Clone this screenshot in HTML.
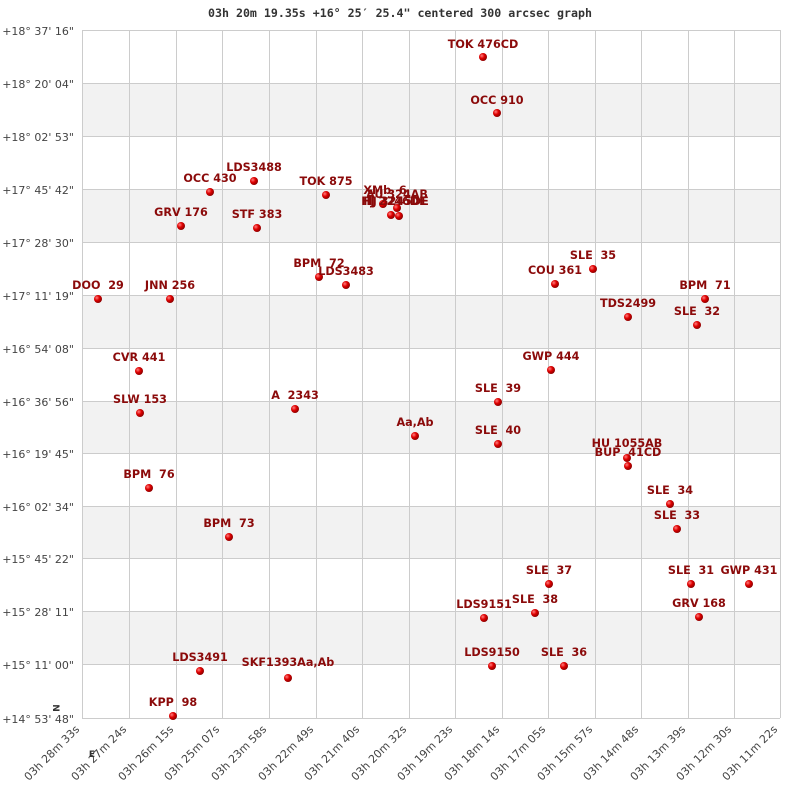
<!DOCTYPE html>
<html><head><meta charset="utf-8"><style>
body{margin:0;background:#fff;width:800px;height:800px;overflow:hidden}
text{white-space:pre}
</style></head><body>
<svg width="800" height="800" xmlns="http://www.w3.org/2000/svg" font-family="DejaVu Sans, Liberation Sans, sans-serif" xml:space="preserve">
<defs><radialGradient id="g" cx="35%" cy="35%" r="65%"><stop offset="0" stop-color="#ff8080"/><stop offset="0.5" stop-color="#e00000"/><stop offset="1" stop-color="#900000"/></radialGradient></defs>
<text x="400" y="17" text-anchor="middle" font-family="DejaVu Sans Mono, Liberation Mono, monospace" font-weight="bold" font-size="11.6" fill="#333">03h 20m 19.35s +16° 25′ 25.4" centered 300 arcsec graph</text>
<g fill="#f2f2f2">
<rect x="82" y="83" width="698" height="53"/><rect x="82" y="189" width="698" height="53"/><rect x="82" y="295" width="698" height="53"/><rect x="82" y="401" width="698" height="52"/><rect x="82" y="506" width="698" height="52"/><rect x="82" y="611" width="698" height="53"/>
</g>
<g stroke="#ccc" stroke-width="1">
<path d="M82.5 30V718M129.5 30V718M176.5 30V718M222.5 30V718M269.5 30V718M316.5 30V718M362.5 30V718M409.5 30V718M455.5 30V718M502.5 30V718M548.5 30V718M595.5 30V718M641.5 30V718M688.5 30V718M734.5 30V718M780.5 30V718"/>
<path d="M82 30.5H780M82 83.5H780M82 136.5H780M82 189.5H780M82 242.5H780M82 295.5H780M82 348.5H780M82 401.5H780M82 453.5H780M82 506.5H780M82 558.5H780M82 611.5H780M82 664.5H780M82 718.5H780"/>
</g>
<g font-size="11" fill="#444" text-anchor="end">
<text x="74" y="35">+18° 37' 16"</text><text x="74" y="88">+18° 20' 04"</text><text x="74" y="141">+18° 02' 53"</text><text x="74" y="194">+17° 45' 42"</text><text x="74" y="247">+17° 28' 30"</text><text x="74" y="300">+17° 11' 19"</text><text x="74" y="353">+16° 54' 08"</text><text x="74" y="406">+16° 36' 56"</text><text x="74" y="458">+16° 19' 45"</text><text x="74" y="511">+16° 02' 34"</text><text x="74" y="563">+15° 45' 22"</text><text x="74" y="616">+15° 28' 11"</text><text x="74" y="669">+15° 11' 00"</text><text x="74" y="723">+14° 53' 48"</text>
</g>
<g font-size="11" fill="#444" text-anchor="end">
<text transform="translate(80,730) rotate(-45)">03h 28m 33s</text>
<text transform="translate(127,730) rotate(-45)">03h 27m 24s</text>
<text transform="translate(174,730) rotate(-45)">03h 26m 15s</text>
<text transform="translate(220,730) rotate(-45)">03h 25m 07s</text>
<text transform="translate(267,730) rotate(-45)">03h 23m 58s</text>
<text transform="translate(314,730) rotate(-45)">03h 22m 49s</text>
<text transform="translate(360,730) rotate(-45)">03h 21m 40s</text>
<text transform="translate(407,730) rotate(-45)">03h 20m 32s</text>
<text transform="translate(453,730) rotate(-45)">03h 19m 23s</text>
<text transform="translate(500,730) rotate(-45)">03h 18m 14s</text>
<text transform="translate(546,730) rotate(-45)">03h 17m 05s</text>
<text transform="translate(593,730) rotate(-45)">03h 15m 57s</text>
<text transform="translate(639,730) rotate(-45)">03h 14m 48s</text>
<text transform="translate(686,730) rotate(-45)">03h 13m 39s</text>
<text transform="translate(732,730) rotate(-45)">03h 12m 30s</text>
<text transform="translate(778,730) rotate(-45)">03h 11m 22s</text>
</g>
<text transform="translate(53,708) rotate(90)" font-size="9" font-weight="bold" fill="#333" text-anchor="middle">N</text>
<text x="92" y="757" font-size="9" font-weight="bold" fill="#333" text-anchor="middle">E</text>
<g fill="url(#g)">
<circle cx="483" cy="57" r="4"/><circle cx="497" cy="113" r="4"/><circle cx="254" cy="181" r="4"/><circle cx="210" cy="192" r="4"/><circle cx="326" cy="195" r="4"/>
<circle cx="383" cy="204" r="4"/><circle cx="397" cy="208" r="4"/><circle cx="391" cy="215" r="4"/><circle cx="399" cy="216" r="4"/>
<circle cx="181" cy="226" r="4"/><circle cx="257" cy="228" r="4"/><circle cx="319" cy="277" r="4"/><circle cx="346" cy="285" r="4"/>
<circle cx="98" cy="299" r="4"/><circle cx="170" cy="299" r="4"/><circle cx="555" cy="284" r="4"/><circle cx="593" cy="269" r="4"/>
<circle cx="705" cy="299" r="4"/><circle cx="628" cy="317" r="4"/><circle cx="697" cy="325" r="4"/><circle cx="139" cy="371" r="4"/>
<circle cx="551" cy="370" r="4"/><circle cx="498" cy="402" r="4"/><circle cx="140" cy="413" r="4"/><circle cx="295" cy="409" r="4"/>
<circle cx="415" cy="436" r="4"/><circle cx="498" cy="444" r="4"/><circle cx="627" cy="458" r="4"/><circle cx="628" cy="466" r="4"/>
<circle cx="149" cy="488" r="4"/><circle cx="670" cy="504" r="4"/><circle cx="677" cy="529" r="4"/><circle cx="229" cy="537" r="4"/>
<circle cx="549" cy="584" r="4"/><circle cx="691" cy="584" r="4"/><circle cx="749" cy="584" r="4"/><circle cx="484" cy="618" r="4"/>
<circle cx="535" cy="613" r="4"/><circle cx="699" cy="617" r="4"/><circle cx="492" cy="666" r="4"/><circle cx="564" cy="666" r="4"/>
<circle cx="200" cy="671" r="4"/><circle cx="288" cy="678" r="4"/><circle cx="173" cy="716" r="4"/>
</g>
<g font-size="11.2" font-weight="bold" fill="#8b0a0a" text-anchor="middle">
<text x="483" y="48">TOK 476CD</text><text x="497" y="104">OCC 910</text><text x="254" y="171">LDS3488</text><text x="210" y="182">OCC 430</text><text x="326" y="185">TOK 875</text>
<text x="385" y="194">XMb  6</text><text x="397" y="198">AU 324AB</text><text x="394" y="205">HJ 2246DE</text><text x="396" y="205">HJ 3245DE</text>
<text x="181" y="216">GRV 176</text><text x="257" y="218">STF 383</text><text x="319" y="267">BPM  72</text><text x="346" y="275">LDS3483</text>
<text x="98" y="289">DOO  29</text><text x="170" y="289">JNN 256</text><text x="555" y="274">COU 361</text><text x="593" y="259">SLE  35</text>
<text x="705" y="289">BPM  71</text><text x="628" y="307">TDS2499</text><text x="697" y="315">SLE  32</text><text x="139" y="361">CVR 441</text>
<text x="551" y="360">GWP 444</text><text x="498" y="392">SLE  39</text><text x="140" y="403">SLW 153</text><text x="295" y="399">A  2343</text>
<text x="415" y="426">Aa,Ab</text><text x="498" y="434">SLE  40</text><text x="627" y="447">HU 1055AB</text><text x="628" y="456">BUP  41CD</text>
<text x="149" y="478">BPM  76</text><text x="670" y="494">SLE  34</text><text x="677" y="519">SLE  33</text><text x="229" y="527">BPM  73</text>
<text x="549" y="574">SLE  37</text><text x="691" y="574">SLE  31</text><text x="749" y="574">GWP 431</text><text x="484" y="608">LDS9151</text>
<text x="535" y="603">SLE  38</text><text x="699" y="607">GRV 168</text><text x="492" y="656">LDS9150</text><text x="564" y="656">SLE  36</text>
<text x="200" y="661">LDS3491</text><text x="288" y="666">SKF1393Aa,Ab</text><text x="173" y="706">KPP  98</text>
</g>
</svg>
</body></html>
